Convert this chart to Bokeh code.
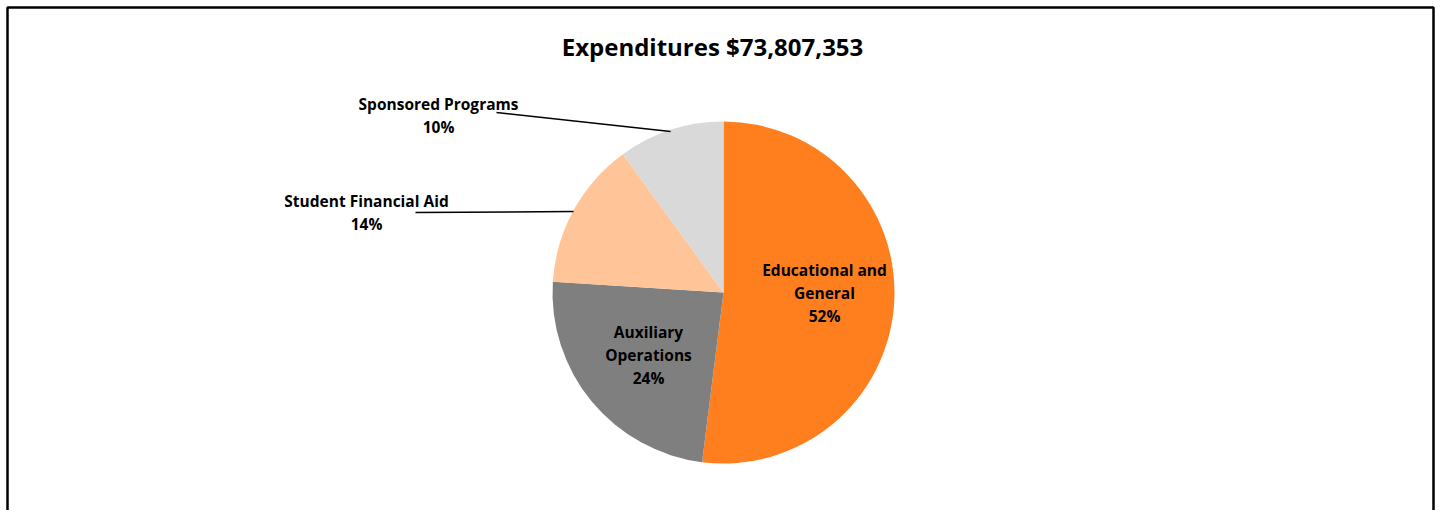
import numpy as np
from bokeh.plotting import figure
from bokeh.models import Range1d, ColumnDataSource
from bokeh.core.properties import value
from bokeh.embed import file_html
from bokeh.resources import INLINE

# ---- data ----
title_text = "Expenditures $73,807,353"
categories = ["Educational and General", "Auxiliary Operations", "Student Financial Aid", "Sponsored Programs"]
label_lines = [["Educational and", "General"], ["Auxiliary", "Operations"], ["Student Financial Aid"], ["Sponsored Programs"]]
shares = [52, 24, 14, 10]
colors = ["#FF7F1F", "#7F7F7F", "#FFC599", "#D9D9D9"]

# ---- layout (pixel-like data units, y measured from top) ----
W, H = 1435, 510


def Y(py):
    return H - py


CX, CY, R = 723, Y(292), 171
FONT = "Open Sans"
# centre of each label block (x, y of the middle line / first line for outside)
inside_center = {0: (824, Y(292)), 1: (648, Y(354))}
outside_pos = {2: (366, Y(200)), 3: (438, Y(103))}
leaders = {2: ((415, 573), (Y(212), Y(211))), 3: ((496, 670), (Y(112), Y(131)))}
LINE_H = 23

p = figure(width=W, height=H, x_range=Range1d(0, W), y_range=Range1d(0, H),
           output_backend="svg", toolbar_location=None, min_border=0)
p.axis.visible = False
p.grid.visible = False
p.outline_line_color = None
p.background_fill_color = "white"

vals = np.array(shares, dtype=float)
frac = vals / vals.sum()
cum = np.concatenate([[0], np.cumsum(frac)])
start = np.pi / 2 - cum[1:] * 2 * np.pi
end = np.pi / 2 - cum[:-1] * 2 * np.pi
src = ColumnDataSource(dict(start=start, end=end, color=colors, cat=categories))
p.wedge(x=CX, y=CY, radius=R, start_angle="start", end_angle="end",
        fill_color="color", line_color=None, source=src)

# labels
tx, ty, tt = [], [], []
for i, lines in enumerate(label_lines):
    pct = f"{int(round(frac[i] * 100))}%"
    all_lines = lines + [pct]
    if i in inside_center:
        lx, ly = inside_center[i]
        y0 = ly + (len(all_lines) - 1) / 2 * LINE_H
    else:
        lx, y0 = outside_pos[i]
    for k, s in enumerate(all_lines):
        tx.append(lx)
        ty.append(y0 - k * LINE_H)
        tt.append(s)
p.text(x=tx, y=ty, text=tt, text_font=value(FONT), text_font_style="bold",
       text_font_size="15.5px", text_align="center", text_baseline="middle",
       text_color="#000000")

for i, (xs, ys) in leaders.items():
    p.line(x=list(xs), y=list(ys), line_color="#000000", line_width=1.5)

# title
p.text(x=[712], y=[Y(46)], text=[title_text], text_font=value(FONT), text_font_style="bold",
       text_font_size="24px", text_align="center", text_baseline="middle", text_color="#000000")

# frame border (left, top, right)
p.line(x=[7, 7, 1433, 1433], y=[0, Y(7), Y(7), 0], line_color="#000000", line_width=2.5)

open("out.html", "w").write(file_html(p, INLINE))
